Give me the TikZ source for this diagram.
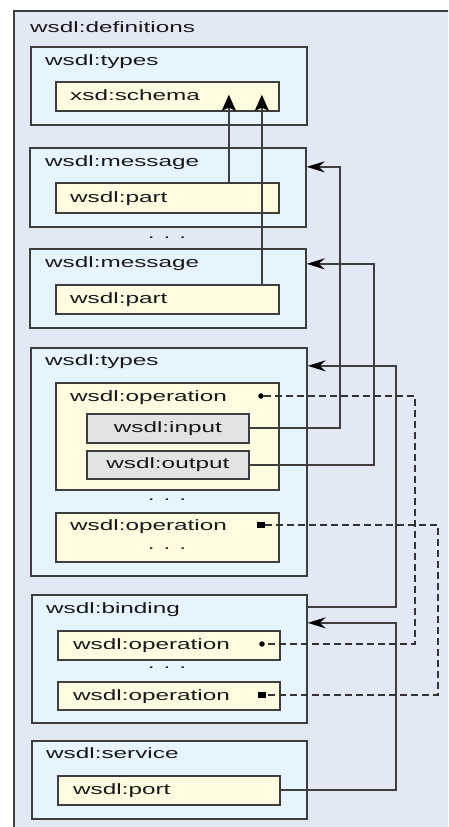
\documentclass[tikz,border=0pt]{standalone}
\usepackage{fontspec}
\newfontfamily\wsdlfont[FakeStretch=1.62]{Liberation Sans}
\usetikzlibrary{calc,positioning}
\usetikzlibrary{arrows.meta}
\definecolor{defbg}{HTML}{E3E8F5}
\definecolor{boxbg}{HTML}{E6F4FD}
\definecolor{partbg}{HTML}{FEFBE1}
\definecolor{iobg}{HTML}{E3E3E3}
\definecolor{edge}{HTML}{3E3E3E}
\tikzset{>={Stealth[length=18pt,width=11pt,inset=6pt,color=black]}}

\begin{document}
\begin{tikzpicture}[x=1pt, y=-1pt, font=\wsdlfont\fontsize{15}{18}\selectfont]
  \tikzstyle{framebox} = [draw=edge, line width=1.7pt, anchor=north west, inner sep=0pt]
  \tikzstyle{outerbox} = [framebox, fill=defbg]
  \tikzstyle{elembox} = [framebox, fill=boxbg, minimum width=276pt]
  \tikzstyle{partbox} = [framebox, fill=partbg, minimum width=223pt, minimum height=29pt]
  \tikzstyle{iobox} = [framebox, fill=iobg, minimum width=162pt, minimum height=29pt, text=black!90]
  \tikzstyle{title} = [anchor=base west, inner sep=0pt, text=black!90]
  \tikzstyle{gap} = [inner sep=0pt, text=black!90]
  \tikzstyle{link} = [draw=edge, line width=1.8pt]
  \tikzstyle{uparrow} = [-{Stealth[length=16pt,width=14pt,inset=3pt,color=black]}]
  \tikzstyle{refline} = [draw=black!80, line width=1.6pt, dash pattern=on 7pt off 4pt]
  \tikzstyle{opdot} = [circle, fill=black, inner sep=0pt, minimum size=5.5pt]
  \tikzstyle{opsquare} = [rectangle, fill=black, inner sep=0pt, minimum width=8pt, minimum height=6pt]

  \useasboundingbox (0,0) rectangle (448,827);
  \clip (0,0) rectangle (448,827);

  % definitions frame, runs off the page at right and bottom
  \node[outerbox, minimum width=460pt, minimum height=840pt] (defs) at (13,10) {};
  \node[title] (defsT) at (30,32) {wsdl:definitions};

  % types
  \node[elembox, minimum height=78pt] (types1) at (30,46) {};
  \node[title] (types1T) at (45,65) {wsdl:types};
  \node[partbox] (schema) at (55,81) {};
  \node[title] (schemaT) at (70,100.5) {xsd:schema};

  % messages
  \node[elembox, minimum height=79pt] (msg1) at (29,147) {};
  \node[title] (msg1T) at (45,166) {wsdl:message};
  \node[partbox, minimum height=30pt] (part1) at (55,182) {};
  \node[title] (part1T) at (70,202) {wsdl:part};
  \node[gap] (gap1) at (167,238) {. . .};
  \node[elembox, minimum height=79pt] (msg2) at (29,248) {};
  \node[title] (msg2T) at (45,267) {wsdl:message};
  \node[partbox] (part2) at (55,284) {};
  \node[title] (part2T) at (70,303) {wsdl:part};

  % operations
  \node[elembox, minimum height=228pt] (types2) at (30,347) {};
  \node[title] (types2T) at (45,365) {wsdl:types};
  \node[partbox, minimum height=107pt] (op1) at (55,382) {};
  \node[title] (op1T) at (70,401) {wsdl:operation};
  \node[opdot] (op1dot) at (261,396) {};
  \node[iobox] (input) at (86,413) {wsdl:input};
  \node[iobox, minimum height=28pt] (output) at (86,450) {wsdl:output};
  \node[gap] (gap2) at (167,500) {. . .};
  \node[partbox, minimum height=49pt] (op2) at (55,512) {};
  \node[title] (op2T) at (70,530) {wsdl:operation};
  \node[opsquare] (op2dot) at (261,525) {};
  \node[gap] (gap3) at (167,549) {. . .};

  % binding
  \node[elembox, minimum width=275pt, minimum height=128pt] (binding) at (31,594) {};
  \node[title] (bindingT) at (46,613) {wsdl:binding};
  \node[partbox, minimum width=222pt] (bop1) at (57,630) {};
  \node[title] (bop1T) at (73,649) {wsdl:operation};
  \node[opdot] (bop1dot) at (262,644) {};
  \node[gap] (gap4) at (167,668) {. . .};
  \node[partbox, minimum width=222pt, minimum height=28pt] (bop2) at (57,681) {};
  \node[title] (bop2T) at (73,700) {wsdl:operation};
  \node[opsquare] (bop2dot) at (262,695) {};

  % service
  \node[elembox, minimum width=275pt, minimum height=78pt] (service) at (31,740) {};
  \node[title] (serviceT) at (46,758) {wsdl:service};
  \node[partbox, minimum width=222pt] (port) at (57,775) {};
  \node[title] (portT) at (73,794) {wsdl:port};

  % parts refer to the schema
  \draw[link,uparrow] ([xshift=61.5pt]part1.north) -- ([xshift=61.5pt,yshift=17pt]schema.south);
  \draw[link,uparrow] ([xshift=94.5pt]part2.north) -- ([xshift=94.5pt,yshift=17pt]schema.south);

  % input/output refer to messages
  \draw[link,->] (input.east) -- ++(90,0) |- ([yshift=20.5pt]msg1.east);
  \draw[link,->] (output.east) -- ++(124,0) |- ([yshift=24.5pt]msg2.east);

  % binding and port
  \draw[link,->] ([yshift=52pt]binding.east) -- ++(88,0) |- ([yshift=96pt]types2.east);
  \draw[link,->] (port.east) -- ++(115,0) |- ([yshift=36pt]binding.east);

  % operation references
  \draw[refline] (op1dot) -- ++(154,0) |- (bop1dot);
  \draw[refline] (op2dot) -- ++(177,0) |- (bop2dot);
\end{tikzpicture}
\end{document}
